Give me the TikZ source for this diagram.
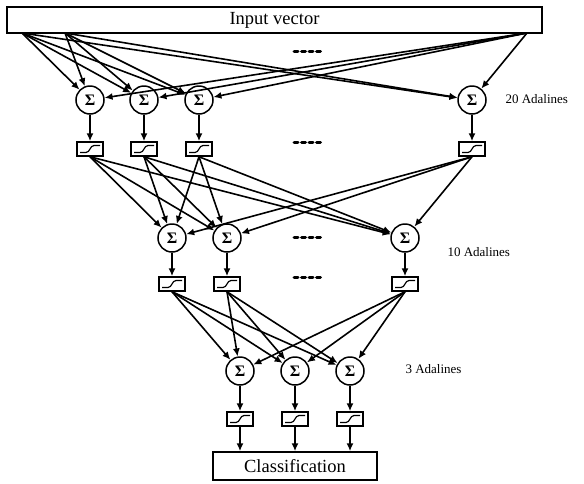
\documentclass[tikz,border=0pt]{standalone}
\usepackage{fontspec}
\setmainfont{Liberation Serif}
\usetikzlibrary{arrows.meta}

\tikzset{
  sum/.style={circle,draw,line width=1.5pt,minimum size=28pt,inner sep=0pt,
    font=\fontsize{16}{16}\selectfont\bfseries},
  act/.style={rectangle,draw,line width=1.5pt,minimum width=26pt,minimum height=14pt,inner sep=0pt,
    path picture={\draw[line width=1.2pt,shift={(path picture bounding box.center)}]
      (-10pt,-3.5pt) -- (-4pt,-3.5pt) .. controls (0pt,-3.5pt) and (0pt,3.5pt) .. (4pt,3.5pt) -- (10pt,3.5pt);}},
  io/.style={rectangle,draw,line width=1.5pt,inner sep=0pt,font=\fontsize{18.5}{18.5}\selectfont},
  arr/.style={draw,line width=1.6pt,-{Latex[length=8pt,width=7pt]}},
  more/.style={line width=3pt,line cap=round,dash pattern=on 4pt off 3.5pt},
  tag/.style={anchor=west,font=\fontsize{13}{13}\selectfont}
}

\begin{document}
\begin{tikzpicture}[x=1pt,y=-1pt]
\useasboundingbox (0,0) rectangle (584,483);

% input and output
\node[io,minimum width=535pt,minimum height=26pt] (in) at (274.5,20) {Input vector};
\node[io,minimum width=164pt,minimum height=28pt] (cls) at (295,466) {Classification};
\coordinate (inA) at (22,33);
\coordinate (inB) at (65,33);
\coordinate (inC) at (527,33);

% first layer
\node[sum] (s1a) at (90,100) {Σ};
\node[sum] (s1b) at (144,100) {Σ};
\node[sum] (s1c) at (199,100) {Σ};
\node[sum] (s1d) at (472,100) {Σ};
\node[act] (b1a) at (90,149) {};
\node[act] (b1b) at (144,149) {};
\node[act] (b1c) at (199,149) {};
\node[act] (b1d) at (472,149) {};
\node[tag] (t1) at (502,99) {20 Adalines};

% second layer
\node[sum] (s2a) at (172,238) {Σ};
\node[sum] (s2b) at (227,238) {Σ};
\node[sum] (s2c) at (405,238) {Σ};
\node[act] (b2a) at (172,284) {};
\node[act] (b2b) at (227,284) {};
\node[act] (b2c) at (405,284) {};
\node[tag] (t2) at (444,252) {10 Adalines};

% third layer
\node[sum] (s3a) at (240,371) {Σ};
\node[sum] (s3b) at (295,371) {Σ};
\node[sum] (s3c) at (350,371) {Σ};
\node[act] (b3a) at (240,419) {};
\node[act] (b3b) at (295,419) {};
\node[act] (b3c) at (350,419) {};
\node[tag] (t3) at (402,369) {3 Adalines};

% dots
\draw[more] (294,51) -- (323,51);
\draw[more] (294,142) -- (323,142);
\draw[more] (294,237) -- (323,237);
\draw[more] (294,277) -- (323,277);

\path (inA) edge[arr] (s1a) edge[arr] (s1b) edge[arr] (s1c) edge[arr] (s1d);
\path (inB) edge[arr] (s1a) edge[arr] (s1b) edge[arr] (s1c) edge[arr] (s1d);
\path (inC) edge[arr] (s1a) edge[arr] (s1b) edge[arr] (s1c) edge[arr] (s1d);

\draw[arr] (s1a) -- (b1a);
\draw[arr] (s1b) -- (b1b);
\draw[arr] (s1c) -- (b1c);
\draw[arr] (s1d) -- (b1d);

\path (b1a.south) edge[arr] (s2a) edge[arr] (s2b) edge[arr] (s2c);
\path (b1b.south) edge[arr] (s2a) edge[arr] (s2b) edge[arr] (s2c);
\path (b1c.south) edge[arr] (s2a) edge[arr] (s2b) edge[arr] (s2c);
\path (b1d.south) edge[arr] (s2a) edge[arr] (s2b) edge[arr] (s2c);

\draw[arr] (s2a) -- (b2a);
\draw[arr] (s2b) -- (b2b);
\draw[arr] (s2c) -- (b2c);

\path (b2a.south) edge[arr] (s3a) edge[arr] (s3b) edge[arr] (s3c);
\path (b2b.south) edge[arr] (s3a) edge[arr] (s3b) edge[arr] (s3c);
\path (b2c.south) edge[arr] (s3a) edge[arr] (s3b) edge[arr] (s3c);

\draw[arr] (s3a) -- (b3a);
\draw[arr] (s3b) -- (b3b);
\draw[arr] (s3c) -- (b3c);

\draw[arr] (b3a) -- (b3a |- cls.north);
\draw[arr] (b3b) -- (b3b |- cls.north);
\draw[arr] (b3c) -- (b3c |- cls.north);
\end{tikzpicture}
\end{document}
